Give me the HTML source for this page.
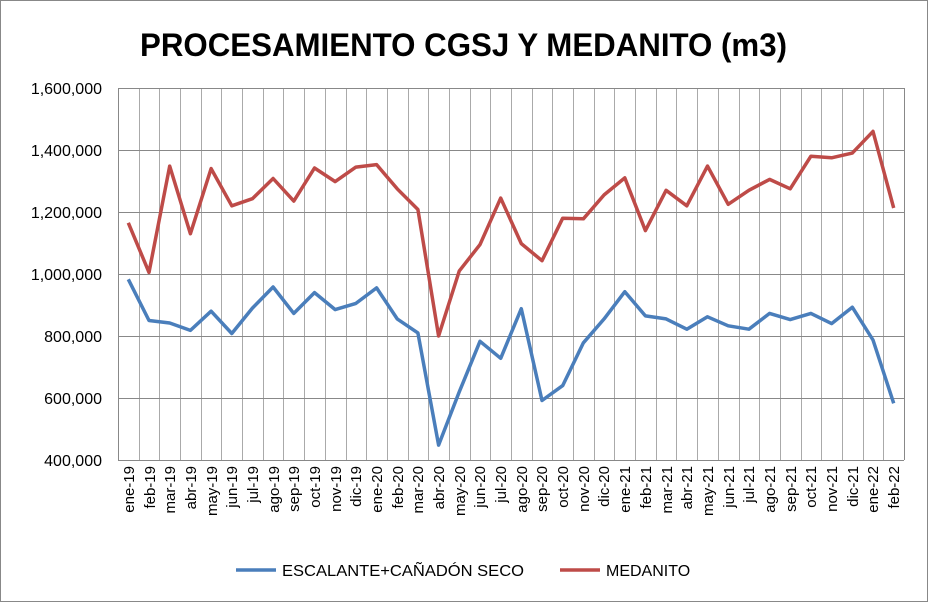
<!DOCTYPE html>
<html><head><meta charset="utf-8"><style>
body{margin:0;background:#fff;}
svg{display:block;font-family:"Liberation Sans",Arial,sans-serif;}
</style></head><body>
<svg width="928" height="602" viewBox="0 0 928 602" xmlns="http://www.w3.org/2000/svg">
<rect x="0.5" y="0.5" width="927" height="601" fill="#fff" stroke="#888"/>
<text x="140" y="56" textLength="647" lengthAdjust="spacingAndGlyphs" font-size="32" font-weight="bold" fill="#000">PROCESAMIENTO CGSJ Y MEDANITO (m3)</text>
<g id="grid"></g>
<g font-size="16" fill="#000" text-anchor="end">
<text x="102" y="94">1,600,000</text>
<text x="102" y="156">1,400,000</text>
<text x="102" y="218">1,200,000</text>
<text x="102" y="280">1,000,000</text>
<text x="102" y="342">800,000</text>
<text x="102" y="404">600,000</text>
<text x="102" y="466">400,000</text>
</g>
<polyline id="blue" fill="none" stroke="#4a7ebb" stroke-width="3.5" stroke-linejoin="round"/>
<polyline id="red" fill="none" stroke="#be4b48" stroke-width="3.5" stroke-linejoin="round"/>
<line x1="236" y1="570" x2="276" y2="570" stroke="#4a7ebb" stroke-width="3.5"/>
<text x="282" y="576" font-size="16" textLength="242" lengthAdjust="spacingAndGlyphs">ESCALANTE+CAÑADÓN SECO</text>
<line x1="560" y1="570" x2="600" y2="570" stroke="#be4b48" stroke-width="3.5"/>
<text x="606" y="576" font-size="16">MEDANITO</text>
<g font-size="15" fill="#000" text-anchor="end">
<text transform="translate(134,466) rotate(-90)">ene-19</text>
<text transform="translate(155,466) rotate(-90)">feb-19</text>
<text transform="translate(175,466) rotate(-90)">mar-19</text>
<text transform="translate(196,466) rotate(-90)">abr-19</text>
<text transform="translate(217,466) rotate(-90)">may-19</text>
<text transform="translate(237,466) rotate(-90)">jun-19</text>
<text transform="translate(258,466) rotate(-90)">jul-19</text>
<text transform="translate(279,466) rotate(-90)">ago-19</text>
<text transform="translate(299,466) rotate(-90)">sep-19</text>
<text transform="translate(320,466) rotate(-90)">oct-19</text>
<text transform="translate(341,466) rotate(-90)">nov-19</text>
<text transform="translate(361,466) rotate(-90)">dic-19</text>
<text transform="translate(382,466) rotate(-90)">ene-20</text>
<text transform="translate(403,466) rotate(-90)">feb-20</text>
<text transform="translate(423,466) rotate(-90)">mar-20</text>
<text transform="translate(444,466) rotate(-90)">abr-20</text>
<text transform="translate(465,466) rotate(-90)">may-20</text>
<text transform="translate(485,466) rotate(-90)">jun-20</text>
<text transform="translate(506,466) rotate(-90)">jul-20</text>
<text transform="translate(527,466) rotate(-90)">ago-20</text>
<text transform="translate(547,466) rotate(-90)">sep-20</text>
<text transform="translate(568,466) rotate(-90)">oct-20</text>
<text transform="translate(589,466) rotate(-90)">nov-20</text>
<text transform="translate(609,466) rotate(-90)">dic-20</text>
<text transform="translate(630,466) rotate(-90)">ene-21</text>
<text transform="translate(651,466) rotate(-90)">feb-21</text>
<text transform="translate(672,466) rotate(-90)">mar-21</text>
<text transform="translate(692,466) rotate(-90)">abr-21</text>
<text transform="translate(713,466) rotate(-90)">may-21</text>
<text transform="translate(734,466) rotate(-90)">jun-21</text>
<text transform="translate(754,466) rotate(-90)">jul-21</text>
<text transform="translate(775,466) rotate(-90)">ago-21</text>
<text transform="translate(796,466) rotate(-90)">sep-21</text>
<text transform="translate(816,466) rotate(-90)">oct-21</text>
<text transform="translate(837,466) rotate(-90)">nov-21</text>
<text transform="translate(858,466) rotate(-90)">dic-21</text>
<text transform="translate(878,466) rotate(-90)">ene-22</text>
<text transform="translate(899,466) rotate(-90)">feb-22</text>
</g>
</svg>
<script>
var L=118,R=904,T=88,B=460,n=38,w=(R-L)/n,ns="http://www.w3.org/2000/svg";
var g=document.getElementById("grid");
function ln(x1,y1,x2,y2,c){var l=document.createElementNS(ns,"line");l.setAttribute("x1",x1);l.setAttribute("y1",y1);l.setAttribute("x2",x2);l.setAttribute("y2",y2);l.setAttribute("stroke",c);l.setAttribute("stroke-width","1");g.appendChild(l);}
for(var i=1;i<n;i++){var x=Math.round(L+i*w)+0.5;ln(x,T,x,B,"#aaa");}
for(var j=0;j<7;j++){var y=T+j*62+0.5;ln(L,y,R,y,"#888");}
ln(L+0.5,T,L+0.5,B,"#888");ln(R+0.5,T,R+0.5,B,"#888");
var b=[983,850,842,818,880,808,890,958,873,940,885,905,955,855,810,448,620,783,728,888,592,640,778,855,943,865,855,822,862,833,822,873,853,873,840,893,787,583];
var r=[1165,1005,1348,1130,1340,1220,1243,1308,1235,1342,1298,1345,1353,1275,1208,800,1010,1095,1245,1098,1043,1180,1178,1255,1310,1140,1270,1220,1348,1225,1270,1305,1275,1380,1375,1390,1460,1213];
function pts(a){return a.map(function(v,i){return (L+w*(i+0.5)).toFixed(1)+","+(B-(v-400)*0.31).toFixed(1)}).join(" ");}
document.getElementById("blue").setAttribute("points",pts(b));
document.getElementById("red").setAttribute("points",pts(r));
</script>
</body></html>
